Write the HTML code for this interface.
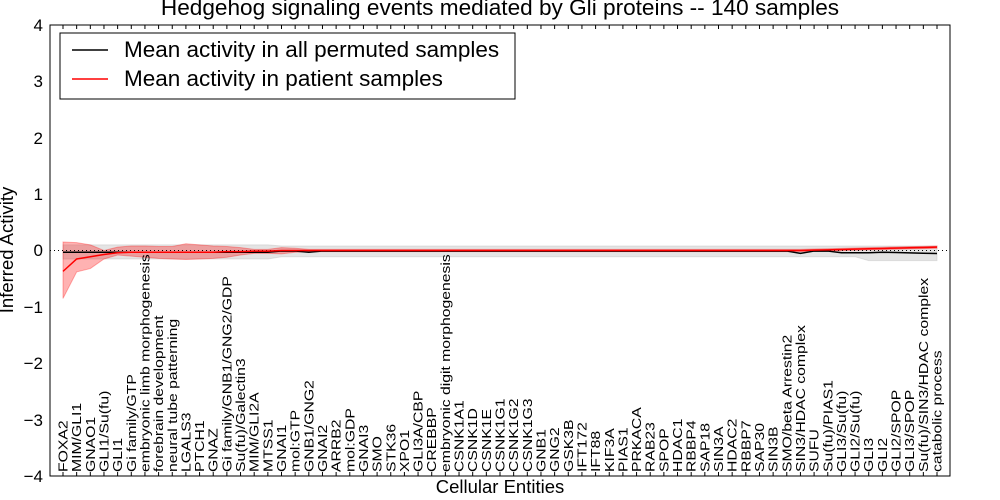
<!DOCTYPE html>
<html><head><meta charset="utf-8"><style>
html,body{margin:0;padding:0;background:#fff;width:1000px;height:500px;overflow:hidden}
svg{font-family:"Liberation Sans","DejaVu Sans",sans-serif}
</style></head><body>
<svg id="s" width="1000" height="500" xmlns="http://www.w3.org/2000/svg">
<text x="500" y="15" text-anchor="middle" font-size="22.6">Hedgehog signaling events mediated by Gli proteins -- 140 samples</text>
<g id="plot"></g>
<rect x="50" y="25" width="900" height="451" fill="none" stroke="#000" stroke-width="1"/>
<g font-size="17" text-anchor="end">
<text x="43" y="31">4</text><text x="43" y="87">3</text><text x="43" y="144">2</text><text x="43" y="200">1</text>
<text x="43" y="256">0</text><text x="43" y="313">−1</text><text x="43" y="369">−2</text><text x="43" y="426">−3</text><text x="43" y="482">−4</text>
</g>
<text transform="translate(13,250) rotate(-90)" text-anchor="middle" font-size="18.5">Inferred Activity</text>
<text x="500" y="493" text-anchor="middle" font-size="18.5">Cellular Entities</text>
<g id="labels" font-size="12.5"></g>
<rect x="60" y="33" width="455" height="66" fill="#fff" stroke="#000"/>
<line x1="72" y1="50" x2="108" y2="50" stroke="#000" stroke-width="1.5"/>
<line x1="72" y1="79" x2="108" y2="79" stroke="#f00" stroke-width="1.5"/>
<text x="124" y="57" font-size="22.5">Mean activity in all permuted samples</text>
<text x="124" y="86" font-size="22.5">Mean activity in patient samples</text>
</svg>
<script>
var L=["FOXA2","MIM/GLI1","GNAO1","GLI1/Su(fu)","GLI1","Gi family/GTP","embryonic limb morphogenesis","forebrain development","neural tube patterning","LGALS3","PTCH1","GNAZ","Gi family/GNB1/GNG2/GDP","Su(fu)/Galectin3","MIM/GLI2A","MTSS1","GNAI1","mol:GTP","GNB1/GNG2","GNAI2","ARRB2","mol:GDP","GNAI3","SMO","STK36","XPO1","GLI3A/CBP","CREBBP","embryonic digit morphogenesis","CSNK1A1","CSNK1D","CSNK1E","CSNK1G1","CSNK1G2","CSNK1G3","GNB1","GNG2","GSK3B","IFT172","IFT88","KIF3A","PIAS1","PRKACA","RAB23","SPOP","HDAC1","RBBP4","SAP18","SIN3A","HDAC2","RBBP7","SAP30","SIN3B","SMO/beta Arrestin2","SIN3/HDAC complex","SUFU","Su(fu)/PIAS1","GLI3/Su(fu)","GLI2/Su(fu)","GLI3","GLI2","GLI2/SPOP","GLI3/SPOP","Su(fu)/SIN3/HDAC complex","catabolic process"];
var n=L.length,X=i=>63+i*874/(n-1),Y=v=>250.5-v*56.4;
var lab="",tk="";
for(var i=0;i<n;i++){var x=X(i);lab+='<text transform="translate('+(x+4.5)+',472) rotate(-90) scale(1.26,1)">'+L[i]+'</text>';
tk+='<line x1="'+x+'" y1="476" x2="'+x+'" y2="472" stroke="#000"/><line x1="'+x+'" y1="25" x2="'+x+'" y2="29" stroke="#000"/>';}
document.getElementById("labels").innerHTML=lab;
var red=[],rh=[],rl=[],blk=[],gh=[],gl=[];
for(var i=0;i<n;i++){
 var r=[-0.37,-0.15,-0.11,-0.07,-0.04,-0.03,-0.03,-0.03,-0.03,-0.03,-0.03,-0.03,-0.02,-0.02,-0.01,-0.01][i];
 if(r===undefined) r=i<54?0.0:0.0+(i-54)*0.006;
 red.push(r);
 var up=[0.15,0.14,0.1,0.0,0.06,0.08,0.08,0.07,0.07,0.12,0.1,0.08,0.07,0.05,0.02,0.02,0.05,0.04][i];
 var dn=[-0.85,-0.38,-0.32,-0.15,-0.08,-0.1,-0.12,-0.14,-0.15,-0.16,-0.15,-0.14,-0.12,-0.08,-0.05,-0.05,-0.06,-0.03][i];
 if(up===undefined){up=r+0.02;dn=r-0.02;}
 rh.push(up);rl.push(dn);
 var b=i<16?-0.03:(i==18?-0.03:(i==54?-0.05:(i>56?-0.04:-0.01)));
 if(i>=60)b=-0.03-(i-60)*0.006;
 blk.push(b);
 gh.push(i<16?0.1:0.08);gl.push(i<16?-0.15:(i>58?-0.18:-0.11));
}
function band(h,l,c,o){var d="M";for(var i=0;i<n;i++)d+=X(i)+","+Y(h[i])+" L";for(var i=n-1;i>=0;i--)d+=X(i)+","+Y(l[i])+(i?" L":"Z");return '<path d="'+d+'" fill="'+c+'" fill-opacity="'+o+'" stroke="'+c+'" stroke-opacity="'+o+'"/>';}
function line(v,c){var d="M";for(var i=0;i<n;i++)d+=X(i)+","+Y(v[i])+(i<n-1?" L":"");return '<path d="'+d+'" fill="none" stroke="'+c+'" stroke-width="1.5"/>';}
document.getElementById("plot").innerHTML=band(gh,gl,"#bbb",0.4)+band(rh,rl,"#f00",0.3)+
'<line x1="50" x2="950" y1="'+Y(0)+'" y2="'+Y(0)+'" stroke="#000" stroke-dasharray="1,3"/>'+line(blk,"#000")+line(red,"#f00")+tk;
</script>
</body></html>
